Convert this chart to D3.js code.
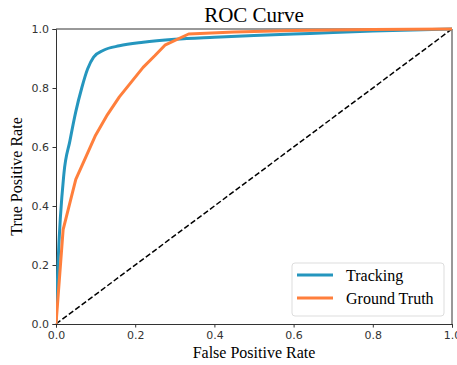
<!DOCTYPE html>
<meta charset="utf-8">
<style>
body { margin: 0; background: #fff; }
.tick text { font-family: "DejaVu Sans", sans-serif; font-size: 11px; fill: #333; }
.tick line, .domain { stroke: #333; }
.label { font-family: "Liberation Serif", "Times New Roman", serif; fill: #000; }
</style>
<svg width="457" height="365"></svg>
<script src="https://cdn.jsdelivr.net/npm/d3@7"></script>
<script>

// Data
const trackingFpr = [0, 0.005, 0.02, 0.035, 0.05, 0.065, 0.08, 0.095, 0.12, 0.16, 0.22, 0.3, 0.4, 0.5, 0.6, 0.7, 0.8, 0.9, 1];
const trackingTpr = [0, 0.2, 0.51, 0.62, 0.72, 0.80, 0.865, 0.905, 0.928, 0.943, 0.955, 0.965, 0.972, 0.978, 0.983, 0.988, 0.993, 0.997, 1];
const truthFpr = [0, 0.018, 0.05, 0.08, 0.1, 0.13, 0.16, 0.19, 0.22, 0.25, 0.275, 0.335, 0.45, 0.6, 0.8, 1];
const truthTpr = [0, 0.32, 0.49, 0.58, 0.64, 0.71, 0.77, 0.82, 0.87, 0.91, 0.945, 0.983, 0.99, 0.995, 0.998, 1];
const seriesNames = ["Tracking", "Ground Truth"];
const seriesColours = ["#2596be", "#ff7f3c"];
const tickValues = [0, 0.2, 0.4, 0.6, 0.8, 1.0];

const margin = {top: 29, right: 5, bottom: 41, left: 56};
const width = 457 - margin.left - margin.right;
const height = 365 - margin.top - margin.bottom;

const svg = d3.select("svg");
const g = svg.append("g").attr("transform", "translate(" + margin.left + "," + margin.top + ")");

const x = d3.scaleLinear().domain([0, 1]).range([0, width]);
const y = d3.scaleLinear().domain([0, 1]).range([height, 0]);

g.append("g")
    .attr("transform", "translate(0," + height + ")")
    .call(d3.axisBottom(x).tickValues(tickValues).tickFormat(d3.format(".1f")).tickSize(3.5).tickPadding(3.5));

g.append("g")
    .call(d3.axisLeft(y).tickValues(tickValues).tickFormat(d3.format(".1f")).tickSize(3.5).tickPadding(3.5));

// top and right spines
g.append("line").attr("x1", 0).attr("x2", width).attr("y1", 0).attr("y2", 0).attr("stroke", "#333");
g.append("line").attr("x1", width).attr("x2", width).attr("y1", 0).attr("y2", height).attr("stroke", "#333");

g.append("clipPath").attr("id", "plot").append("rect")
    .attr("x", 0).attr("y", -2).attr("width", width).attr("height", height + 2);

const line = d3.line().x(d => x(d[0])).y(d => y(d[1]));
const smoothLine = d3.line().x(d => x(d[0])).y(d => y(d[1])).curve(d3.curveMonotoneX);

const series = [
  d3.zip(trackingFpr, trackingTpr),
  d3.zip(truthFpr, truthTpr)
];

// diagonal chance line
g.append("path")
    .datum([[0, 0], [1, 1]])
    .attr("d", line)
    .attr("fill", "none")
    .attr("stroke", "#000")
    .attr("stroke-width", 1.5)
    .attr("stroke-dasharray", "5.5,2.5");

g.selectAll(".curve")
  .data(series)
  .enter().append("path")
    .attr("class", "curve")
    .attr("d", (d, i) => i === 0 ? smoothLine(d) : line(d))
    .attr("fill", "none")
    .attr("clip-path", "url(#plot)")
    .attr("stroke", (d, i) => seriesColours[i])
    .attr("stroke-width", 3)
    .attr("stroke-linejoin", "round");

// legend
const legend = g.append("g").attr("transform", "translate(" + (width - 160) + "," + (height - 61) + ")");
legend.append("rect")
    .attr("width", 152).attr("height", 53).attr("rx", 3)
    .attr("fill", "#fff").attr("fill-opacity", 0.8)
    .attr("stroke", "#ddd");
seriesNames.forEach((name, i) => {
  legend.append("line")
      .attr("x1", 5).attr("x2", 41)
      .attr("y1", 12 + i * 23).attr("y2", 12 + i * 23)
      .attr("stroke", seriesColours[i]).attr("stroke-width", 3);
  legend.append("text")
      .attr("class", "label")
      .attr("x", 54).attr("y", 18 + i * 23)
      .attr("font-size", "16px")
      .text(name);
});

// title and axis labels
svg.append("text").attr("class", "label")
    .attr("x", margin.left + width / 2).attr("y", 22)
    .attr("text-anchor", "middle").attr("font-size", "21px")
    .text("ROC Curve");

svg.append("text").attr("class", "label")
    .attr("x", margin.left + width / 2).attr("y", 358)
    .attr("text-anchor", "middle").attr("font-size", "16px")
    .text("False Positive Rate");

svg.append("text").attr("class", "label")
    .attr("transform", "translate(22," + (margin.top + height / 2) + ") rotate(-90)")
    .attr("text-anchor", "middle").attr("font-size", "16px")
    .text("True Positive Rate");
</script>
